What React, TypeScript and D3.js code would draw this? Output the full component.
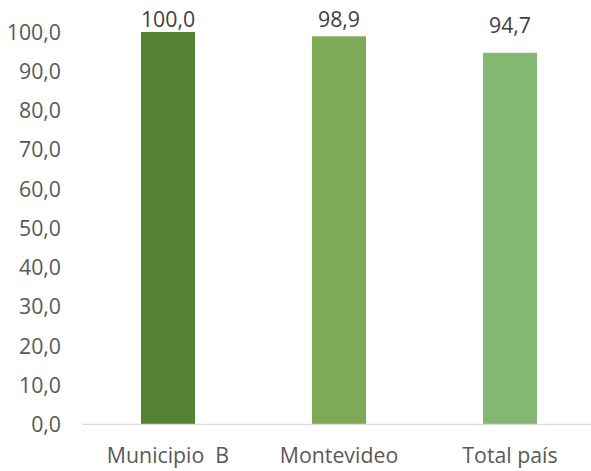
import React from "react";
import * as d3 from "d3";

const categories = ["Municipio  B", "Montevideo", "Total país"];
const values = [100.0, 98.9, 94.7];
const colors = ["#548235", "#7EA957", "#84B872"];
const yTicks = [0, 10, 20, 30, 40, 50, 60, 70, 80, 90, 100];

const W = 591;
const H = 471;
const fmt = (v: number) => v.toFixed(1).replace(".", ",");

export default function App() {
  const x = d3.scaleBand<string>().domain(categories).range([82.5, 595.5]).paddingInner(0.684).paddingOuter(0.342);
  const y = d3.scaleLinear().domain([0, 100]).range([424.3, 32]);
  const font = "'Open Sans', sans-serif";
  const fs = 21.3;
  return (
    <svg width={W} height={H} style={{ position: "absolute", left: 0, top: 0, background: "#fff" }}>
      {yTicks.map((t) => (
        <text key={t} x={61} y={y(t)} dy="0.36em" textAnchor="end" fontFamily={font} fontSize={fs} fill="#595959">
          {fmt(t)}
        </text>
      ))}
      {categories.map((c, i) => (
        <rect key={c} x={x(c)!} y={y(values[i])} width={x.bandwidth()} height={y(0) - y(values[i])} fill={colors[i]} />
      ))}
      <line x1={82.5} x2={W} y1={y(0)} y2={y(0)} stroke="#D9D9D9" strokeWidth={1.3} />
      {categories.map((c, i) => (
        <text key={c} x={x(c)! + x.bandwidth() / 2} y={463} textAnchor="middle" fontFamily={font} fontSize={fs} fill="#595959" style={{ whiteSpace: "pre" }}>
          {c}
        </text>
      ))}
      {categories.map((c, i) => (
        <text key={c} x={x(c)! + x.bandwidth() / 2} y={Math.max(y(values[i]) - 20, 27)} textAnchor="middle" fontFamily={font} fontSize={fs} fill="#404040">
          {fmt(values[i])}
        </text>
      ))}
    </svg>
  );
}
